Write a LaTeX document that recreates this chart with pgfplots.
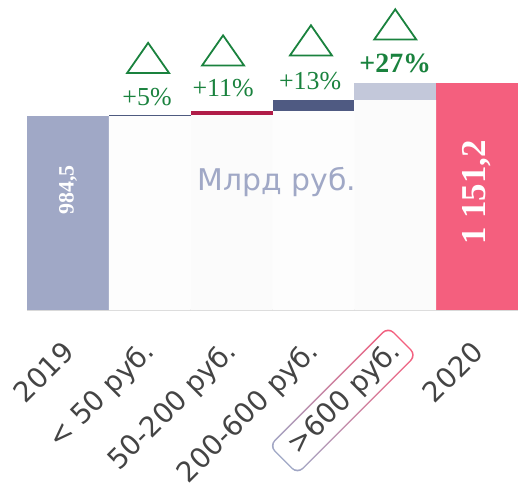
\documentclass[border=0pt]{standalone}
\usepackage{pgfplots}
\pgfplotsset{compat=1.18}
\usepackage{fontspec}
\setmainfont{Liberation Serif}
\newfontfamily\dejavu{DejaVu Sans}
\definecolor{c2019}{HTML}{A0A8C6}
\definecolor{c2020}{HTML}{F45F7E}
\definecolor{cLow}{HTML}{4E5A80}
\definecolor{cMid}{HTML}{B01C48}
\definecolor{cHigh}{HTML}{4F5A82}
\definecolor{cTop}{HTML}{C3C8DA}
\definecolor{wb1}{HTML}{FDFDFD}
\definecolor{wb2}{HTML}{FBFBFB}
\definecolor{grn}{HTML}{1A823E}
\definecolor{lbl}{HTML}{444444}
\definecolor{axline}{HTML}{D9D9D9}
\newsavebox\boxlbl
\begin{document}
\sbox\boxlbl{\dejavu\fontsize{28}{33}\selectfont\color{lbl}%
\begin{tikzpicture}[baseline=(t.base)]
\node[inner sep=0pt] (t) {\phantom{>600 руб.}};
\begin{scope}[overlay]
\shade[rounded corners=8pt, left color=c2019, right color=c2020] ([shift={(-14pt,-6.5pt)}]t.south west) rectangle ([shift={(9pt,6.5pt)}]t.north east);
\fill[white, rounded corners=7pt] ([shift={(-12.5pt,-5pt)}]t.south west) rectangle ([shift={(7.5pt,5pt)}]t.north east);
\end{scope}
\node[inner sep=0pt] at (t) {>600 руб.};
\end{tikzpicture}}%
\begin{tikzpicture}
\begin{axis}[name=ax, scale only axis, width=491bp, height=310bp,
 xmin=-0.5, xmax=5.5, ymin=0, ymax=1571, enlargelimits=false,
 axis x line*=bottom, axis y line=none,
 x axis line style={draw=axline, line width=1.3bp, -},
 xtick={0,...,5}, major tick length=0pt,
 xticklabels={2019,{< 50 руб.},{50-200 руб.},{200-600 руб.},{\usebox\boxlbl},2020},
 xticklabel style={font=\dejavu\fontsize{28}{33}\selectfont, text=lbl, xshift=1bp, yshift=-37bp, rotate=45, anchor=east, inner sep=0pt},
 ytick=\empty,
 bar width=1, /pgf/bar shift=0pt,
 clip=false,
 mybar/.style={ybar, bar width=1, bar shift=0pt, draw=none},
]
% totals
\addplot[mybar, fill=c2019] coordinates {(0,984.5)};
\addplot[mybar, fill=c2020] coordinates {(5,1151.2)};
% invisible (near-white) bases of the floating bars
\addplot[mybar, fill=wb1] coordinates {(1,984.5)(3,1008.5)};
\addplot[mybar, fill=wb2] coordinates {(2,989.5)(4,1064.5)};
% increments
\addplot[fill=cLow, draw=none] coordinates {(0.5,984.5)(1.5,984.5)(1.5,989.5)(0.5,989.5)} -- cycle;
\addplot[fill=cMid, draw=none] coordinates {(1.5,989.5)(2.5,989.5)(2.5,1008.5)(1.5,1008.5)} -- cycle;
\addplot[fill=cHigh, draw=none] coordinates {(2.5,1008.5)(3.5,1008.5)(3.5,1064.5)(2.5,1064.5)} -- cycle;
\addplot[fill=cTop, draw=none] coordinates {(3.5,1064.5)(4.5,1064.5)(4.5,1151.2)(3.5,1151.2)} -- cycle;
\addplot[only marks, mark=triangle, mark size=24.2bp, mark options={yscale=0.83, draw=grn, line width=1.8bp, fill=none}] coordinates {(0.98,1252)(1.896,1290)(2.97,1341)(4.0,1422)};
\node[font=\bfseries\fontsize{22}{22}\selectfont, text=white, rotate=90] at (axis cs:0,608) {984,5};
\node[font=\bfseries\fontsize{35}{35}\selectfont, text=white, rotate=90] at (axis cs:5,595) {1 151,2};
\node[font=\dejavu\fontsize{30}{30}\selectfont, text=c2019] at (axis cs:2.556,649) {Млрд руб.};
\node[font=\fontsize{26}{26}\selectfont, text=grn] at (axis cs:0.967,1080) {+5\%};
\node[font=\fontsize{26}{26}\selectfont, text=grn] at (axis cs:1.896,1125) {+11\%};
\node[font=\fontsize{26}{26}\selectfont, text=grn] at (axis cs:2.96,1161) {+13\%};
\node[font=\bfseries\fontsize{28}{28}\selectfont, text=grn] at (axis cs:4.0,1252) {+27\%};
\end{axis}
\pgfresetboundingbox
\path ([shift={(-27bp,-173bp)}]ax.south west) rectangle ([shift={(1bp,0bp)}]ax.north east);
\end{tikzpicture}
\end{document}
